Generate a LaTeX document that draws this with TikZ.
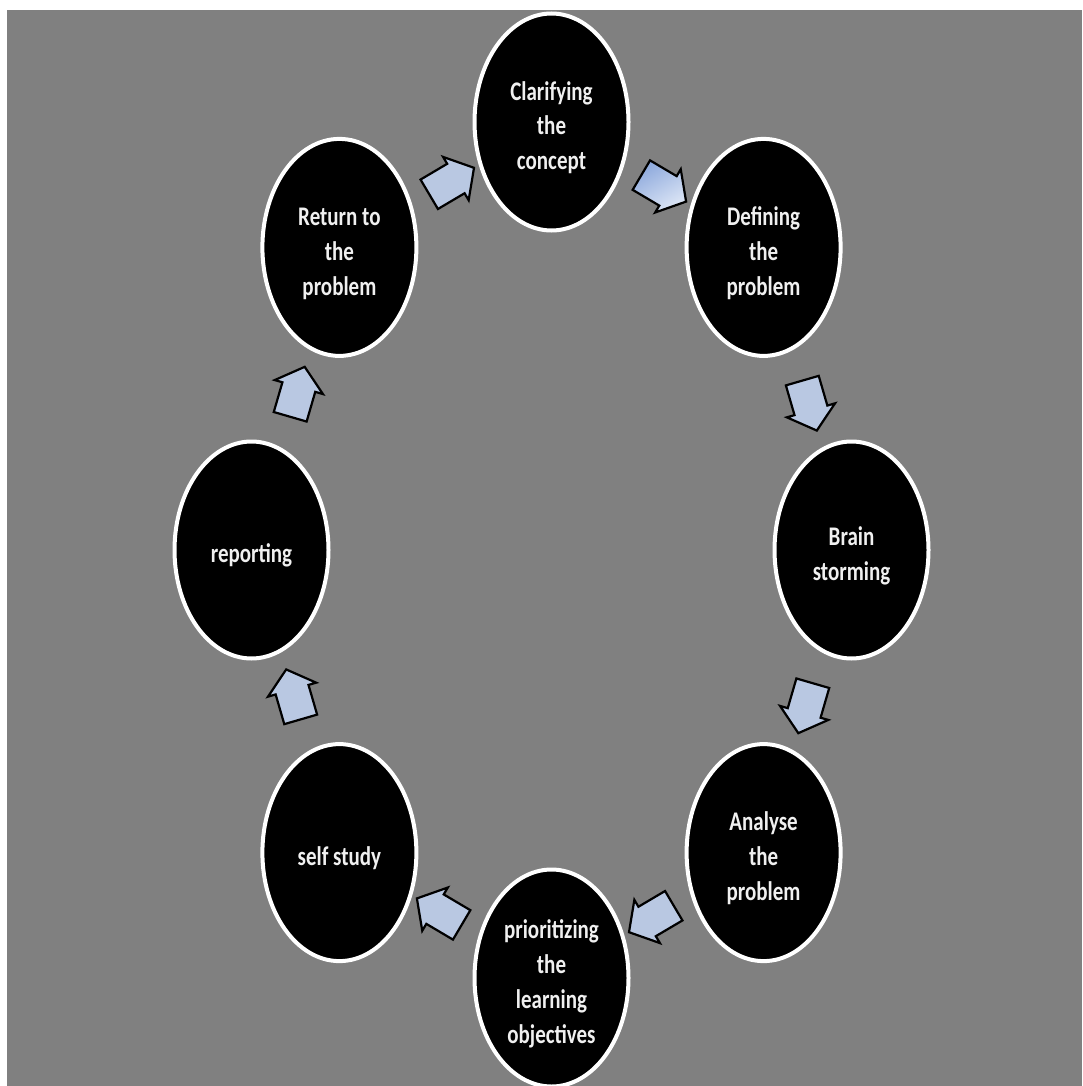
\documentclass[tikz,border=0pt]{standalone}
\usepackage{fontspec}
\setmainfont{Carlito}
\usetikzlibrary{shapes.geometric,shapes.arrows}
\definecolor{bg}{RGB}{128,128,128}
\definecolor{arrowfill}{RGB}{185,200,226}
\definecolor{gradtop}{RGB}{140,168,220}
\definecolor{gradmid}{RGB}{178,198,232}
\definecolor{gradbot}{RGB}{222,231,246}
\newcommand{\lbl}[1]{\raisebox{0pt}[\dimexpr\height+12pt\relax][\depth]{\scalebox{1}[1.28]{\fontsize{21}{27.3}\selectfont\bfseries\begin{tabular}{@{}c@{}}#1\end{tabular}}}}
\tikzset{
  stage/.style={ellipse, draw=white, line width=4pt, fill=black, minimum width=154pt, minimum height=217pt, inner sep=0pt, text={rgb,255:red,240;green,240;blue,240}},
  blockarrow/.style={single arrow, draw=black, line width=2.2pt, line join=miter, fill=arrowfill, minimum height=52pt, minimum width=48pt, single arrow head extend=8pt, single arrow tip angle=100, inner sep=0pt, sloped, allow upside down, midway},
}
\newcommand{\shaft}{\rule{0pt}{32pt}}
\begin{document}
\begin{tikzpicture}[x=1pt,y=-1pt]
\useasboundingbox (0,0) rectangle (1082,1086);
\clip (0,0) rectangle (1082,1086);
\fill[white] (0,0) rectangle (1082,1086);
\fill[bg] (7,10) rectangle (1082,1086);
\node[stage] (s1) at (551.5,122) {\lbl{Clarifying\\the\\concept}};
\node[stage] (s2) at (763.6,247.4) {\lbl{Defining\\the\\problem}};
\node[stage] (s3) at (851.5,550) {\lbl{Brain\\storming}};
\node[stage] (s4) at (763.6,852.6) {\lbl{Analyse\\the\\problem}};
\node[stage] (s5) at (551.5,978) {\lbl{prioritizing\\the\\learning\\objectives}};
\node[stage] (s6) at (339.4,852.6) {\lbl{self study}};
\node[stage] (s7) at (251.5,550) {\lbl{reporting}};
\node[stage] (s8) at (339.4,247.4) {\lbl{Return to\\the\\problem}};
\path (s1.center) -- (s2.center) node[blockarrow, top color=gradtop, middle color=gradmid, bottom color=gradbot, shading angle=30.6] (a12) {\shaft};
\path (s2.center) -- (s3.center) node[blockarrow] (a23) {\shaft};
\path (s3.center) -- (s4.center) node[blockarrow] (a34) {\shaft};
\path (s4.center) -- (s5.center) node[blockarrow] (a45) {\shaft};
\path (s5.center) -- (s6.center) node[blockarrow] (a56) {\shaft};
\path (s6.center) -- (s7.center) node[blockarrow] (a67) {\shaft};
\path (s7.center) -- (s8.center) node[blockarrow] (a78) {\shaft};
\path (s8.center) -- (s1.center) node[blockarrow] (a81) {\shaft};
\end{tikzpicture}
\end{document}
